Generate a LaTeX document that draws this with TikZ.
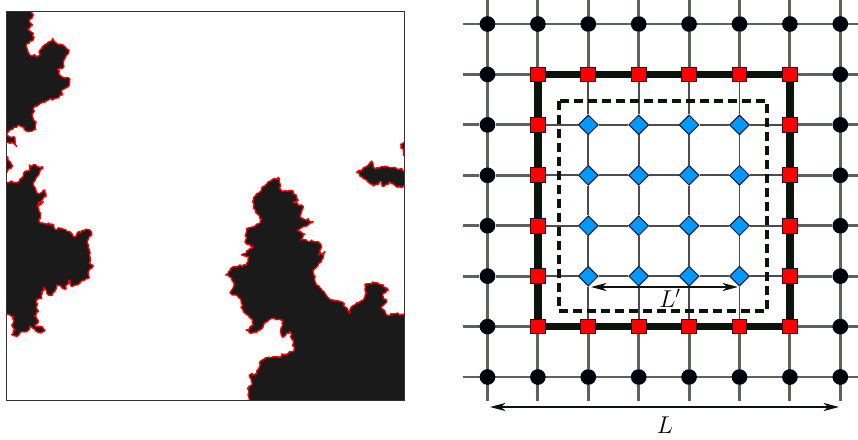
\documentclass[tikz,border=0pt]{standalone}
\usepackage{xcolor}
\usepackage{tikz}
\usetikzlibrary{arrows.meta,backgrounds,decorations.pathmorphing,shapes.geometric}
\definecolor{bulkgray}{HTML}{1A1A1A}
\definecolor{gridgray}{HTML}{5C625C}
\definecolor{boxdark}{HTML}{0A140A}
\definecolor{innerblue}{HTML}{0099FF}
\definecolor{edgenavy}{HTML}{14142D}
\begin{document}
\begin{tikzpicture}[
      x=0.03cm, y=-0.03cm,
      cluster/.style={fill=bulkgray, draw=red, line width=0.04cm, line join=round,
        decorate, decoration={random steps, segment length=1.8pt, amplitude=1pt}},
      frame/.style={draw=black!80, line width=0.028cm},
      gridline/.style={draw=gridgray, line width=0.085cm},
      thinline/.style={draw=black!70, line width=0.055cm},
      outerbox/.style={draw=boxdark, line width=0.23cm},
      innerbox/.style={draw=boxdark, line width=0.1cm, dash pattern=on 0.27cm off 0.15cm},
      bulksite/.style={circle, fill=black!95!blue, inner sep=0pt, minimum size=0.47cm},
      edgesite/.style={rectangle, fill=red, draw=edgenavy, line width=0.03cm, inner sep=0pt, minimum size=0.44cm},
      innersite/.style={diamond, fill=innerblue, draw=edgenavy, line width=0.03cm, inner sep=0pt, minimum size=0.6cm},
      span/.style={{Stealth[length=4.6mm, width=2.4mm, inset=1.3mm]}-{Stealth[length=4.6mm, width=2.4mm, inset=1.3mm]}, line width=0.065cm, draw=boxdark},
      sizelabel/.style={font=\huge, anchor=base, inner sep=0pt}
    ]
    \useasboundingbox (0,0) rectangle (858,439);

    % left panel
    \begin{scope}
      \clip (6,11) rectangle (404,400);
      \begin{scope}[shift={(0,0)}, scale=1/3]
        \path[cluster] (0,20) -- (95,30) -- (100,45) -- (88,60) -- (98,75) -- (85,85) -- (100,100)
          -- (100,120) -- (88,125) -- (78,140) -- (90,165) -- (118,167) -- (120,150) -- (143,130)
          -- (158,115) -- (170,130) -- (195,140) -- (207,155) -- (195,175) -- (192,200) -- (172,208)
          -- (185,230) -- (210,238) -- (205,260) -- (185,270) -- (188,285) -- (165,295) -- (145,300)
          -- (105,318) -- (98,350) -- (108,365) -- (108,388) -- (85,395) -- (58,375) -- (30,390)
          -- (20,405) -- (45,412) -- (50,440) -- (40,430) -- (0,428) -- cycle;
        \path[cluster] (0,470) -- (20,470) -- (38,498) -- (20,518) -- (0,518) -- cycle;
        \path[cluster] (0,548) -- (58,545) -- (72,518) -- (90,510) -- (88,495) -- (128,500) -- (110,530)
          -- (100,548) -- (112,580) -- (135,570) -- (138,590) -- (120,605) -- (112,620) -- (130,605)
          -- (115,615) -- (122,640) -- (118,665) -- (155,672) -- (165,688) -- (185,685) -- (210,695)
          -- (220,710) -- (245,692) -- (270,690) -- (275,705) -- (262,725) -- (270,760) -- (268,790)
          -- (280,797) -- (268,810) -- (265,835) -- (240,850) -- (215,860) -- (210,840) -- (195,868)
          -- (170,855) -- (158,885) -- (145,885) -- (130,862) -- (125,895) -- (108,900) -- (115,935)
          -- (103,948) -- (115,962) -- (105,975) -- (130,985) -- (135,992) -- (115,997) -- (90,978)
          -- (80,995) -- (60,998) -- (50,1010) -- (35,1003) -- (45,990) -- (35,975) -- (42,950)
          -- (0,940) -- cycle;
      \end{scope}
      \begin{scope}[shift={(210,130)}, scale=1/3]
        \path[cluster] (118,830) -- (118,808) -- (113,775) -- (125,765) -- (118,735) -- (140,730) -- (150,695)
          -- (175,682) -- (210,682) -- (215,672) -- (250,665) -- (250,640) -- (240,605) -- (218,622)
          -- (212,600) -- (218,570) -- (185,565) -- (160,585) -- (150,600) -- (125,610) -- (108,600)
          -- (130,585) -- (125,565) -- (100,545) -- (90,505) -- (60,488) -- (72,465) -- (65,445)
          -- (47,435) -- (70,410) -- (110,405) -- (115,380) -- (95,375) -- (130,350) -- (105,335)
          -- (110,295) -- (150,280) -- (155,268) -- (130,235) -- (130,205) -- (155,175) -- (175,155)
          -- (205,142) -- (213,180) -- (250,185) -- (265,210) -- (250,215) -- (280,230) -- (270,260)
          -- (310,275) -- (280,290) -- (262,302) -- (285,312) -- (272,330) -- (325,335) -- (335,350)
          -- (325,375) -- (345,365) -- (335,390) -- (310,420) -- (320,465) -- (345,490) -- (365,510)
          -- (395,515) -- (420,550) -- (425,530) -- (460,510) -- (470,490) -- (465,462) -- (495,458)
          -- (520,465) -- (535,480) -- (518,495) -- (530,515) -- (515,530) -- (530,555) -- (600,550)
          -- (600,830) -- cycle;
        \path[cluster] (440,127) -- (465,112) -- (485,93) -- (495,115) -- (520,110) -- (560,115)
          -- (600,125) -- (600,165) -- (565,172) -- (540,155) -- (520,170) -- (515,155) -- (490,168)
          -- (470,150) -- cycle;
        \path[cluster] (600,35) -- (572,42) -- (580,75) -- (600,82) -- cycle;
      \end{scope}
    \end{scope}
    \node[frame, rectangle, inner sep=0pt, minimum width=11.94cm, minimum height=11.67cm] (panel) at (205,205.5) {};

    % lattice sites
    \foreach \row in {0,...,7} {
      \foreach \col in {0,...,7} {
        \pgfmathsetmacro{\xpos}{487.5+50.4*\col}
        \pgfmathsetmacro{\ypos}{24+50.43*\row}
        \def\sitestyle{bulksite}
        \ifnum\col>0 \ifnum\col<7 \ifnum\row>0 \ifnum\row<7
          \def\sitestyle{edgesite}
          \ifnum\col>1 \ifnum\col<6 \ifnum\row>1 \ifnum\row<6
            \def\sitestyle{innersite}
          \fi\fi\fi\fi
        \fi\fi\fi\fi
        \node[\sitestyle] (site-\col-\row) at (\xpos,\ypos) {};
      }
      \pgfmathsetmacro{\ypos}{24+50.43*\row}
      \pgfmathsetmacro{\xpos}{487.5+50.4*\row}
      \coordinate (west-\row) at (463,\ypos);
      \coordinate (east-\row) at (858,\ypos);
      \coordinate (north-\row) at (\xpos,0);
      \coordinate (south-\row) at (\xpos,401);
    }

    % lattice bonds
    \begin{pgfonlayer}{background}
      \foreach \k in {0,1,6,7} {
        \draw[gridline] (west-\k) -- (east-\k);
        \draw[gridline] (north-\k) -- (south-\k);
      }
      \foreach \k in {2,...,5} {
        \draw[gridline] (west-\k) -- (site-0-\k) -- (site-1-\k);
        \draw[gridline] (site-6-\k) -- (site-7-\k) -- (east-\k);
        \draw[gridline] (north-\k) -- (site-\k-0) -- (site-\k-1);
        \draw[gridline] (site-\k-6) -- (site-\k-7) -- (south-\k);
        \draw[thinline] (site-1-\k) -- (site-2-\k) -- (site-3-\k) -- (site-4-\k) -- (site-5-\k) -- (site-6-\k);
        \draw[thinline] (site-\k-1) -- (site-\k-2) -- (site-\k-3) -- (site-\k-4) -- (site-\k-5) -- (site-\k-6);
      }
      \draw[outerbox] (site-1-1.center) rectangle (site-6-6.center);
    \end{pgfonlayer}

    \coordinate (innerA) at (559,101);
    \coordinate (innerB) at (767,311);
    \draw[innerbox] (innerA) rectangle (innerB);

    % sizes
    \coordinate (smallA) at (591,287);
    \coordinate (smallB) at (738,287);
    \coordinate (largeA) at (490,407);
    \coordinate (largeB) at (839,407);
    \draw[span] (smallA) -- (smallB);
    \draw[span] (largeA) -- (largeB);
    \node[sizelabel] (smalllabel) at (670,307) {$L'$};
    \node[sizelabel] (largelabel) at (665,433) {$L$};
  \end{tikzpicture}
\end{document}
